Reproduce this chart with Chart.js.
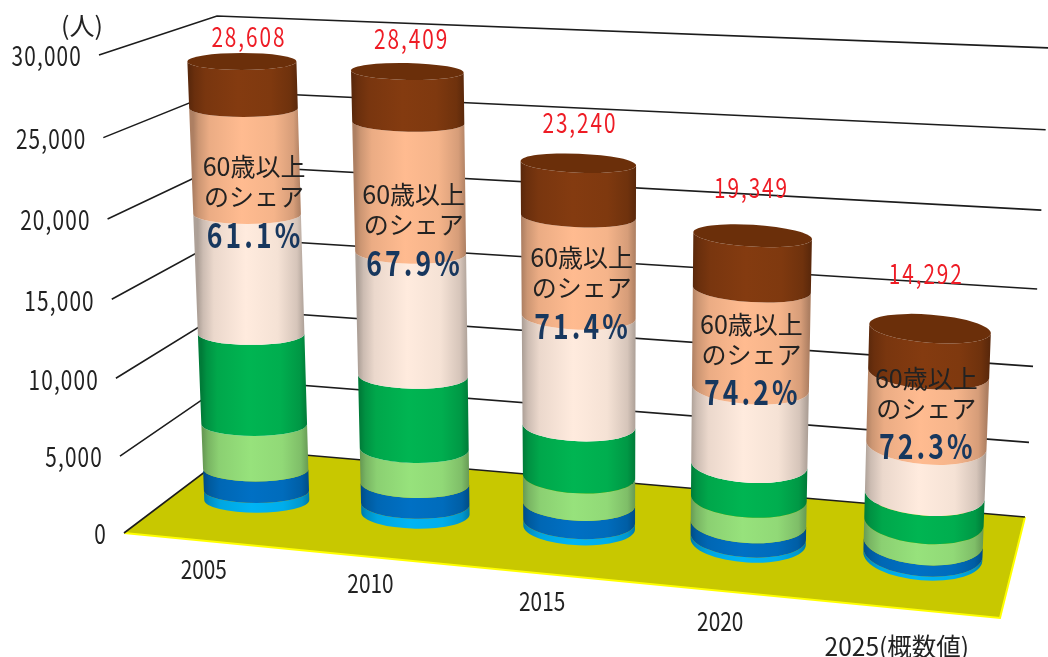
<!DOCTYPE html>
<html lang="ja">
<head>
<meta charset="utf-8">
<title>60歳以上のシェア</title>
<script src="https://cdn.jsdelivr.net/npm/chart.js@4/dist/chart.umd.min.js"></script>
<style>
  html, body { margin: 0; padding: 0; background: #fff; }
  canvas { display: block; }
</style>
</head>
<body>
<canvas id="chart" width="1048" height="657"></canvas>
<script>
// values, bottom of the stack first
const categories = ["2005", "2010", "2015", "2020", "2025(概数値)"];
const seg1 = [650, 650, 400, 320, 250];
const seg2 = [1450, 1370, 1180, 900, 690];
const seg3 = [3030, 2290, 1760, 1600, 1300];
const seg4 = [6000, 4810, 3307, 2172, 1719];
const seg5 = [7800, 7940, 7000, 4850, 3100];
const seg6 = [6750, 8190, 6293, 6190, 4500];
const seg7 = [2928, 3160, 3300, 3317, 2733];
const totals = ["28,608", "28,409", "23,240", "19,349", "14,292"];
const shares = ["61.1%", "67.9%", "71.4%", "74.2%", "72.3%"];
const yTicks = [0, 5000, 10000, 15000, 20000, 25000, 30000];
const yTickLabels = ["0", "5,000", "10,000", "15,000", "20,000", "25,000", "30,000"];
const unitLabel = "(人)";
const shareLine1 = "60歳以上";
const shareLine2 = "のシェア";

const segColors = ["#00b4f5", "#0070c4", "#97e27c", "#00b552", "#ffebde", "#ffbb90", "#843b10"];
const capColor = "#6b2f0a";

// perspective quads: front bottom left, bottom right, top right, top left
const BAR_QUAD = [[179, 493.5], [1012, 564], [1032, 70], [160, 36]];
const LEFT_WALL = [[124, 533], [235, 449], [217, 16], [99, 55]];
const BACK_WALL = [[235, 449], [1025, 517], [1050, 48], [217, 16]];
const FLOOR = [[124, 533], [1000, 618], [1025, 517], [235, 449]];

// label placement next to the cylinders
const CAT_OFFSET = [[-53, 69], [-45, 70], [-37, 74], [-28, 79], [-26, 90]];
const SHARE_DX = [7, 3, 3, 1, 0];
const SHARE_DY = [11, -1, -4, -12, -18];

const FONT = "'Noto Sans CJK JP',sans-serif";

function makeHomography(q) {
  const [x0, y0] = q[0], [x1, y1] = q[1], [x2, y2] = q[2], [x3, y3] = q[3];
  const dx1 = x1 - x2, dx2 = x3 - x2, sx = x0 - x1 + x2 - x3;
  const dy1 = y1 - y2, dy2 = y3 - y2, sy = y0 - y1 + y2 - y3;
  const den = dx1 * dy2 - dx2 * dy1;
  const g = (sx * dy2 - dx2 * sy) / den;
  const h = (dx1 * sy - sx * dy1) / den;
  const a = x1 - x0 + g * x1, b = x3 - x0 + h * x3;
  const d = y1 - y0 + g * y1, e = y3 - y0 + h * y3;
  return function (u, v) {
    const w = g * u + h * v + 1;
    return { x: (a * u + b * v + x0) / w, y: (d * u + e * v + y0) / w };
  };
}
const barPlane = makeHomography(BAR_QUAD);
const leftWall = makeHomography(LEFT_WALL);
const backWall = makeHomography(BACK_WALL);

function shade(hex, k) {
  const n = parseInt(hex.slice(1), 16);
  const r = Math.round((n >> 16 & 255) * k), g = Math.round((n >> 8 & 255) * k), b = Math.round((n & 255) * k);
  return "rgb(" + r + "," + g + "," + b + ")";
}

// the reference uses a tall narrow face, so squeeze the text sideways
function drawText(ctx, text, x, y, size, color, opts) {
  opts = opts || {};
  ctx.save();
  ctx.translate(x, y);
  ctx.scale(opts.squeeze || 1, 1);
  ctx.font = (opts.bold ? "bold " : "") + size + "px " + FONT;
  ctx.fillStyle = color;
  ctx.textAlign = opts.align || "center";
  ctx.textBaseline = "middle";
  ctx.letterSpacing = (opts.spacing || 0) + "px";
  ctx.fillText(text, 0, 0);
  ctx.restore();
}

// flat chart position -> ellipse on the cylinder
function ringAt(chart, bar, value) {
  const area = chart.chartArea;
  const yScale = chart.scales.y;
  const v = (area.bottom - yScale.getPixelForValue(value)) / area.height;
  const u = (bar.x - area.left) / area.width;
  const half = bar.width / 2 / area.width;
  const L = barPlane(u - half, v);
  const R = barPlane(u + half, v);
  const rx = Math.hypot(R.x - L.x, R.y - L.y) / 2;
  const ratio = (0.22 + 0.2 * u) * (1 - (0.3 + 0.65 * u) * v);
  return { cx: (L.x + R.x) / 2, cy: (L.y + R.y) / 2, rx: rx, ry: rx * ratio, tilt: (u - 0.1) * 0.1 };
}

const cylinderPlugin = {
  id: "cylinders",
  beforeDatasetsDraw(chart) {
    const ctx = chart.ctx;
    const area = chart.chartArea;
    const yScale = chart.scales.y;

    // floor
    ctx.beginPath();
    FLOOR.forEach((p, i) => i ? ctx.lineTo(p[0], p[1]) : ctx.moveTo(p[0], p[1]));
    ctx.closePath();
    ctx.fillStyle = "#c8c800";
    ctx.fill();
    ctx.strokeStyle = "#ffff00";
    ctx.lineWidth = 2;
    ctx.beginPath();
    ctx.moveTo(FLOOR[0][0], FLOOR[0][1]);
    ctx.lineTo(FLOOR[1][0], FLOOR[1][1]);
    ctx.lineTo(FLOOR[2][0], FLOOR[2][1]);
    ctx.stroke();

    // grid lines and value labels
    ctx.strokeStyle = "#1c1c1c";
    ctx.lineWidth = 1.6;
    yTicks.forEach((val, i) => {
      const v = (area.bottom - yScale.getPixelForValue(val)) / area.height;
      const a = leftWall(0, v), b = leftWall(1, v), c = backWall(0, v), d = backWall(1, v);
      ctx.beginPath();
      ctx.moveTo(a.x, a.y);
      ctx.lineTo(b.x, b.y);
      ctx.lineTo(c.x, c.y);
      ctx.lineTo(d.x, d.y);
      ctx.stroke();
      drawText(ctx, yTickLabels[i], a.x - 17, a.y + 1, 27, "#222", { align: "right", spacing: 1.5, squeeze: 0.77 });
    });
    drawText(ctx, unitLabel, 82, 25, 25, "#222");
  },
  beforeDatasetDraw() {
    return false;
  },
  afterDatasetsDraw(chart) {
    const ctx = chart.ctx;
    categories.forEach((cat, i) => {
      const bar = chart.getDatasetMeta(0).data[i];
      let sum = 0;
      const rings = [ringAt(chart, bar, 0)];
      chart.data.datasets.forEach((ds) => {
        sum += ds.data[i];
        rings.push(ringAt(chart, bar, sum));
      });

      // cylinder, from the floor up
      chart.data.datasets.forEach((ds, k) => {
        const lo = rings[k], hi = rings[k + 1];
        const grad = ctx.createLinearGradient(lo.cx - lo.rx, 0, lo.cx + lo.rx, 0);
        [[0, 0.68], [0.05, 0.8], [0.15, 0.92], [0.45, 1], [0.75, 0.96], [0.93, 0.84], [1, 0.68]].forEach((s) => {
          grad.addColorStop(s[0], shade(segColors[k], s[1]));
        });
        ctx.beginPath();
        ctx.ellipse(lo.cx, lo.cy, lo.rx, lo.ry, lo.tilt, 0, Math.PI, false);
        ctx.ellipse(hi.cx, hi.cy, hi.rx, hi.ry, hi.tilt, Math.PI, 0, true);
        ctx.closePath();
        ctx.fillStyle = grad;
        ctx.fill();
      });
      const top = rings[rings.length - 1];
      ctx.beginPath();
      ctx.ellipse(top.cx, top.cy, top.rx, top.ry, top.tilt, 0, Math.PI * 2);
      ctx.fillStyle = capColor;
      ctx.fill();

      // total above the cylinder
      drawText(ctx, totals[i], top.cx + 7 - 2.7 * i, top.cy - 25 - 7.5 * i, 27, "#ee1c25", { spacing: 2.5, squeeze: 0.77 });

      // share text sits around the top of the pale band
      const edge = rings[5];
      const shareY = edge.cy + edge.ry + SHARE_DY[i];
      const shareX = edge.cx + SHARE_DX[i];
      drawText(ctx, shareLine1, shareX, shareY - 68, 25, "#222");
      drawText(ctx, shareLine2, shareX, shareY - 38, 25, "#222");
      drawText(ctx, shares[i], shareX + 1, shareY, 34, "#17375e", { bold: true, spacing: 4, squeeze: 0.78 });

      // category label under the floor
      const base = rings[0];
      drawText(ctx, cat, base.cx + CAT_OFFSET[i][0], base.cy + CAT_OFFSET[i][1], i === 4 ? 25 : 26, "#222", { squeeze: i === 4 ? 0.98 : 0.8 });
    });
  }
};

new Chart(document.getElementById("chart"), {
  type: "bar",
  data: {
    labels: categories,
    datasets: [seg1, seg2, seg3, seg4, seg5, seg6, seg7].map((values, k) => ({
      data: values,
      backgroundColor: segColors[k]
    }))
  },
  options: {
    responsive: false,
    animation: false,
    devicePixelRatio: 1,
    layout: { padding: 0 },
    barPercentage: 0.67,
    categoryPercentage: 1,
    plugins: { legend: { display: false }, tooltip: { enabled: false } },
    scales: {
      x: { stacked: true, display: false },
      y: { stacked: true, display: false, min: 0, max: 30000 }
    }
  },
  plugins: [cylinderPlugin]
});
</script>
</body>
</html>
